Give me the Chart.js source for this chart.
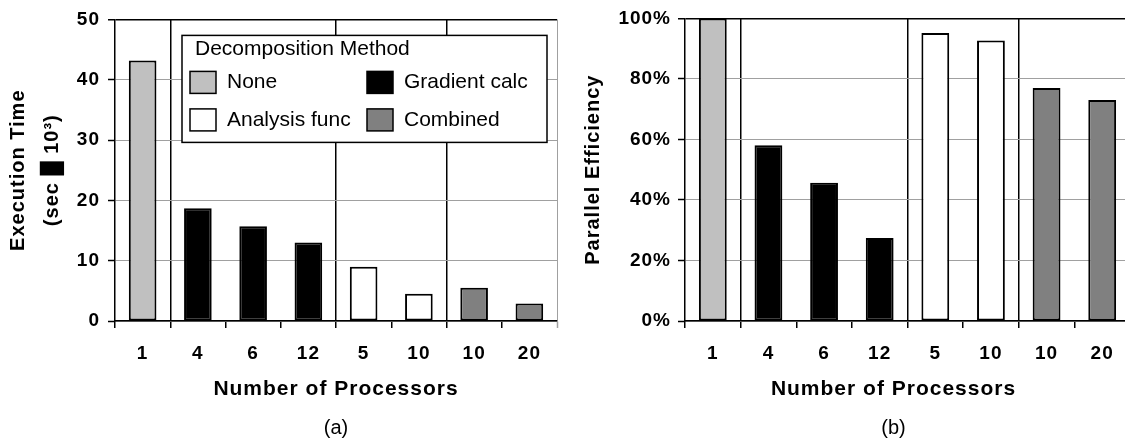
<!DOCTYPE html>
<html>
<head>
<meta charset="utf-8">
<script src="https://cdn.jsdelivr.net/npm/chart.js@4.4.1/dist/chart.umd.min.js"></script>
<style>
  html, body { margin: 0; padding: 0; background: #fff; width: 1125px; height: 439px; overflow: hidden; }
  #wrapA { position: absolute; left: 0; top: 0; width: 563px; height: 439px; }
  #wrapB { position: absolute; left: 563px; top: 0; width: 575px; height: 439px; }
</style>
</head>
<body>
<div id="wrapA"><canvas id="chartA" width="563" height="439"></canvas></div>
<div id="wrapB"><canvas id="chartB" width="575" height="439"></canvas></div>
<script>
// ---- data ----
const categories = ['1', '4', '6', '12', '5', '10', '10', '20'];
const methods = ['None', 'Gradient calc', 'Analysis func', 'Combined'];
const methodColors = ['#C0C0C0', '#000000', '#FFFFFF', '#808080'];
const methodOfCategory = [0, 1, 1, 1, 2, 2, 3, 3];
const executionTime = [43.2, 18.7, 15.7, 13.0, 9.0, 4.5, 5.5, 2.9];   // sec x 10^3
const parallelEfficiency = [100, 58.1, 45.7, 27.4, 95.2, 92.7, 77.0, 73.0]; // %
const execTicks = [0, 10, 20, 30, 40, 50];
const effTicks = [0, 20, 40, 60, 80, 100];
const legendTitle = 'Decomposition Method';
const xTitle = 'Number of Processors';
const execTitle = ['Execution Time', '(sec \u2588 10\u00B3)'];
const effTitle = 'Parallel Efficiency';
const captions = ['(a)', '(b)'];

const FONT = "'Liberation Sans', Arial, sans-serif";
const GRAY = '#a0a0a0';

function buildDatasets(values) {
  return methods.map((m, mi) => ({
    label: m,
    data: values.map((v, i) => methodOfCategory[i] === mi ? v : null),
    backgroundColor: methodColors[mi],
    borderColor: '#000',
    borderWidth: 2,
    borderSkipped: false,
    barPercentage: 0.5,
    categoryPercentage: 1.0,
    grouped: false
  }));
}

const spacingPlugin = {
  id: 'spacing',
  beforeDraw(chart) { chart.ctx.letterSpacing = '1px'; }
};

// draws the panel caption (and optionally the x-axis title) under the plot
const captionPlugin = {
  id: 'caption',
  afterDraw(chart, args, opts) {
    const ctx = chart.ctx, ca = chart.chartArea;
    const cx = (ca.left + ca.right) / 2 + (opts.shift || 0);
    ctx.save();
    ctx.fillStyle = '#000';
    ctx.textAlign = 'center';
    ctx.textBaseline = 'middle';
    if (opts.axisTitle) {
      ctx.letterSpacing = '1px';
      ctx.font = 'bold 21px ' + FONT;
      ctx.fillText(opts.axisTitle, cx, 389);
    }
    ctx.letterSpacing = '0px';
    ctx.font = '20px ' + FONT;
    ctx.fillText(opts.text, cx, opts.y);
    ctx.restore();
  }
};

const boxLegendPlugin = {
  id: 'boxLegend',
  afterDatasetsDraw(chart, args, opts) {
    if (!opts.show) return;
    const ctx = chart.ctx;
    const ca = chart.chartArea;
    ctx.save();
    ctx.letterSpacing = '0px';
    const x0 = ca.left + 67, y0 = ca.top + 16, w = 365, h = 107;
    ctx.fillStyle = '#fff';
    ctx.fillRect(x0, y0, w, h);
    ctx.lineWidth = 1.5;
    ctx.strokeStyle = '#000';
    ctx.strokeRect(x0, y0, w, h);
    ctx.fillStyle = '#000';
    ctx.font = '21px ' + FONT;
    ctx.textAlign = 'left';
    ctx.textBaseline = 'middle';
    ctx.fillText(legendTitle, x0 + 13, y0 + 14);
    chart.data.datasets.forEach((ds, i) => {
      const col = i % 2, row = Math.floor(i / 2);
      const sx = x0 + 8 + col * 177;
      const sy = y0 + 36 + row * 37.5;
      ctx.fillStyle = ds.backgroundColor;
      ctx.fillRect(sx, sy, 26, 22);
      ctx.strokeRect(sx, sy, 26, 22);
      ctx.fillStyle = '#000';
      ctx.fillText(ds.label, sx + 37, sy + 11);
    });
    ctx.restore();
  }
};

function makeOptions(cfg) {
  return {
    responsive: false,
    animation: false,
    layout: { padding: { top: 17, left: 0, right: cfg.padRight, bottom: 0 } },
    plugins: {
      legend: { display: false },
      tooltip: { enabled: false },
      title: { display: false },
      caption: { text: cfg.caption, y: 428, shift: cfg.shift, axisTitle: cfg.nativeX ? null : xTitle },
      boxLegend: { show: cfg.legend }
    },
    scales: {
      x: {
        type: 'category',
        offset: true,
        afterFit(scale) { scale.height = 118; },
        border: { display: true, color: '#000', width: 1.5 },
        grid: {
          offset: true,
          drawOnChartArea: true,
          drawTicks: true,
          tickLength: 7,
          color(ctx) {
            const i = ctx.index;
            if (i === undefined) return GRAY;
            if (i > 0 && methodOfCategory[i] !== methodOfCategory[i - 1]) return '#000';
            return 'rgba(0,0,0,0)';
          },
          lineWidth(ctx) { return ctx.index === undefined ? 1 : 1.5; },
          tickColor(ctx) { return ctx.index === undefined ? GRAY : '#000'; },
          tickWidth: 1.5
        },
        ticks: {
          color: '#000',
          padding: 14,
          maxRotation: 0,
          autoSkip: false,
          font: { family: FONT, size: 19, weight: 'bold' }
        },
        title: {
          display: cfg.nativeX,
          text: xTitle,
          color: '#000',
          font: { family: FONT, size: 21, weight: 'bold' },
          padding: { top: 0, bottom: 37 }
        }
      },
      y: {
        min: cfg.ticks[0],
        max: cfg.ticks[cfg.ticks.length - 1],
        afterFit(scale) { scale.width = cfg.yWidth; },
        afterBuildTicks(scale) { scale.ticks = cfg.ticks.map(v => ({ value: v })); },
        border: { display: true, color: '#000', width: 1.5 },
        grid: {
          drawTicks: true,
          tickLength: 7,
          color(ctx) { return ctx.tick && ctx.tick.value === cfg.ticks[cfg.ticks.length - 1] ? '#000' : GRAY; },
          lineWidth(ctx) { return ctx.tick && ctx.tick.value === cfg.ticks[cfg.ticks.length - 1] ? 1.5 : 1; },
          tickColor: '#000',
          tickWidth: 1.5
        },
        ticks: {
          color: '#000',
          padding: cfg.tickPad,
          font: { family: FONT, size: 19, weight: 'bold' },
          callback: cfg.tickFmt
        },
        title: {
          display: true,
          text: cfg.yTitle,
          color: '#000',
          font: { family: FONT, size: 20, weight: 'bold', lineHeight: cfg.yTitleLH },
          padding: { top: cfg.yTitlePad, bottom: 0 }
        }
      }
    }
  };
}

new Chart(document.getElementById('chartA'), {
  type: 'bar',
  data: { labels: categories, datasets: buildDatasets(executionTime) },
  options: makeOptions({
    padRight: 6, caption: captions[0], legend: true, ticks: execTicks, shift: 0, nativeX: true,
    yWidth: 115, tickPad: 8, tickFmt: v => String(v),
    yTitle: execTitle, yTitleLH: '34px', yTitlePad: 1
  }),
  plugins: [spacingPlugin, captionPlugin, boxLegendPlugin]
});

new Chart(document.getElementById('chartB'), {
  type: 'bar',
  data: { labels: categories, datasets: buildDatasets(parallelEfficiency) },
  options: makeOptions({
    padRight: 8, caption: captions[1], legend: false, ticks: effTicks, shift: -14, nativeX: false,
    yWidth: 122, tickPad: 7, tickFmt: v => v + '%',
    yTitle: effTitle, yTitleLH: 1.2, yTitlePad: 18
  }),
  plugins: [spacingPlugin, captionPlugin, boxLegendPlugin]
});
</script>
</body>
</html>
